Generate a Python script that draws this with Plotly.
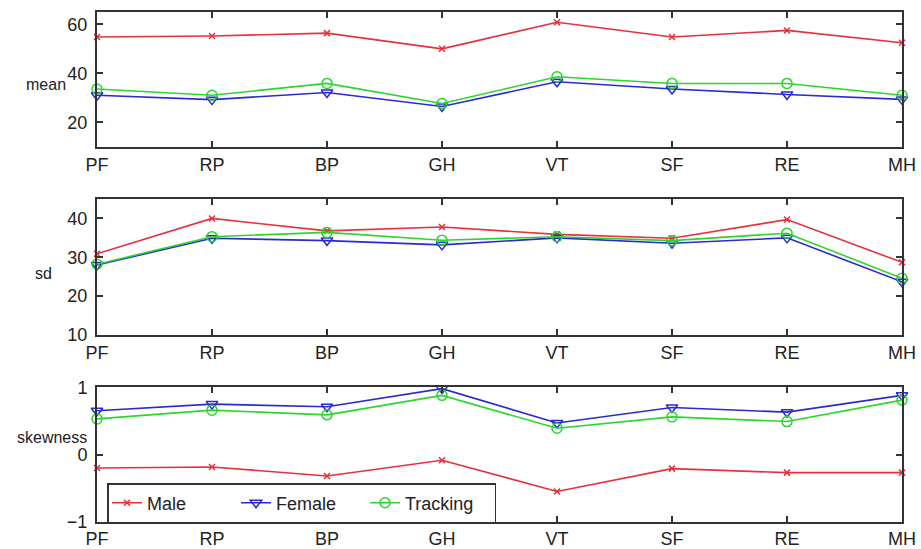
import plotly.graph_objects as go

categories = ["PF", "RP", "BP", "GH", "VT", "SF", "RE", "MH"]

mean_male = [54.8, 55.2, 56.4, 50.0, 60.8, 54.8, 57.5, 52.5]
mean_female = [31.1, 29.3, 32.2, 26.5, 36.6, 33.6, 31.4, 29.4]
mean_tracking = [33.6, 31.1, 35.9, 27.7, 38.6, 35.9, 35.9, 31.1]

sd_male = [30.9, 40.0, 36.8, 37.8, 35.9, 34.9, 39.7, 28.7]
sd_female = [28.0, 34.9, 34.3, 33.2, 35.0, 33.6, 35.0, 23.7]
sd_tracking = [28.2, 35.3, 36.4, 34.4, 35.3, 34.3, 36.2, 24.6]

skew_male = [-0.20, -0.185, -0.32, -0.085, -0.55, -0.21, -0.27, -0.27]
skew_female = [0.65, 0.75, 0.71, 0.98, 0.47, 0.70, 0.63, 0.88]
skew_tracking = [0.53, 0.66, 0.59, 0.88, 0.39, 0.56, 0.49, 0.81]

series_names = ["Male", "Female", "Tracking"]
colors = ["#e8303c", "#2a2ad0", "#2bd62b"]
symbols = ["x-thin-open", "triangle-down-open", "circle-open"]
msizes = [6, 10, 10]

panels = [
    ("mean", [mean_male, mean_female, mean_tracking], [10, 65], [20, 40, 60]),
    ("sd", [sd_male, sd_female, sd_tracking], [10, 45], [10, 20, 30, 40]),
    ("skewness", [skew_male, skew_female, skew_tracking], [-1, 1], [-1, 0, 1]),
]

W, H = 921, 549
x0, x1 = 97 / W, 902 / W
ydoms = [
    (1 - 147 / H, 1 - 12 / H),
    (1 - 335 / H, 1 - 199 / H),
    (1 - 521.7 / H, 1 - 387.3 / H),
]

fig = go.Figure()
layout = dict(
    template="none",
    width=W, height=H,
    margin=dict(l=0, r=0, t=0, b=0, pad=0),
    paper_bgcolor="white", plot_bgcolor="white",
    font=dict(family="Liberation Sans, Arial, sans-serif", size=16, color="#222"),
    showlegend=True,
)

for i, (label, data, yr, yt) in enumerate(panels):
    n = "" if i == 0 else str(i + 1)
    for j, vals in enumerate(data):
        fig.add_trace(go.Scatter(
            x=categories, y=vals, mode="lines+markers",
            name=series_names[j], legendgroup=series_names[j],
            showlegend=(i == 2), cliponaxis=False,
            line=dict(color=colors[j], width=1.6),
            marker=dict(symbol=symbols[j], size=msizes[j], color=colors[j],
                        line=dict(color=colors[j], width=1.5)),
            xaxis="x" + n, yaxis="y" + n,
        ))
    layout["xaxis" + n] = dict(
        domain=[x0, x1], anchor="y" + n, type="category",
        categoryorder="array", categoryarray=categories,
        range=[0, 7], showline=True, mirror="ticks", linecolor="#333",
        linewidth=2, ticks="inside", ticklen=6, tickwidth=2, tickcolor="#333",
        showgrid=False, zeroline=False, tickfont=dict(size=18),
        automargin=False,
    )
    layout["yaxis" + n] = dict(
        domain=list(ydoms[i]), anchor="x" + n, range=yr,
        tickvals=yt, showline=True, mirror="ticks", linecolor="#333",
        linewidth=2, ticks="inside", ticklen=6, tickwidth=2, tickcolor="#333",
        showgrid=False, zeroline=False, tickfont=dict(size=18),
        automargin=False, ticklabelstandoff=4,
    )

annotations = []
for text, cx, cy in [("mean", 46, 85), ("sd", 43, 273), ("skewness", 52, 437)]:
    annotations.append(dict(text=text, x=cx / W, y=1 - cy / H, xref="paper", yref="paper",
                            xanchor="center", yanchor="middle",
                            showarrow=False, font=dict(size=16)))
layout["annotations"] = annotations

layout["legend"] = dict(
    orientation="h", x=107 / W, y=1 - 483 / H, xanchor="left", yanchor="top",
    bordercolor="#333", borderwidth=1.5, bgcolor="white",
    font=dict(size=18), itemwidth=30, tracegroupgap=0,
    entrywidth=84, entrywidthmode="pixels",
)

fig.update_layout(**layout)
fig.write_html("out.html", config={"displayModeBar": False},
               post_script="document.body.style.margin='0';document.body.style.overflow='hidden';")
